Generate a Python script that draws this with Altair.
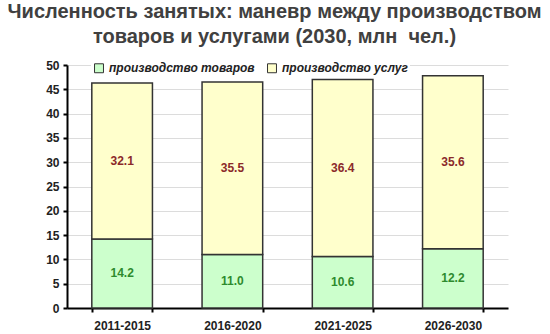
import altair as alt
import pandas as pd

periods = ["2011-2015", "2016-2020", "2021-2025", "2026-2030"]
goods = [14.2, 11.0, 10.6, 12.2]
services = [32.1, 35.5, 36.4, 35.6]
series_names = ["производство товаров", "производство услуг"]
y_ticks = [0, 5, 10, 15, 20, 25, 30, 35, 40, 45, 50]

rows = []
for i, p in enumerate(periods):
    rows.append({"period": p, "series": series_names[0], "value": goods[i], "order": 0})
    rows.append({"period": p, "series": series_names[1], "value": services[i], "order": 1})
df = pd.DataFrame(rows)

FONT = "Liberation Sans"

base = alt.Chart(df).transform_stack(
    stack="value", groupby=["period"], as_=["y0", "y1"], sort=[alt.SortField("order")]
).transform_calculate(mid="(datum.y0 + datum.y1) / 2")

xscale = alt.Scale(paddingInner=0.45, paddingOuter=0.225)
xaxis = alt.Axis(labelAngle=0, labelFont=FONT, labelFontWeight="bold", labelFontSize=12,
                 labelColor="#222", domainColor="#000", domainWidth=2, tickBand="extent",
                 tickColor="#000", tickWidth=2, tickSize=4, labelPadding=8)
yscale = alt.Scale(domain=[0, 50], nice=False)
yaxis = alt.Axis(values=y_ticks, labelOverlap=False, labelFont=FONT, labelFontWeight="bold",
                 labelFontSize=12, labelColor="#222", domainColor="#000", domainWidth=2,
                 tickColor="#000", tickWidth=2, tickSize=4, grid=True, gridColor="#dcdcdc",
                 gridWidth=1, labelPadding=4)

bars = base.mark_bar(stroke="#333", strokeWidth=1.5).encode(
    x=alt.X("period:N", sort=periods, title=None, scale=xscale, axis=xaxis),
    y=alt.Y("y0:Q", title=None, scale=yscale, axis=yaxis),
    y2="y1:Q",
    color=alt.Color("series:N", sort=series_names,
                    scale=alt.Scale(domain=series_names, range=["#ccffcc", "#ffffcc"]),
                    legend=alt.Legend(title=None, orient="none", legendX=24, legendY=-5,
                                      direction="horizontal", symbolType="square", symbolSize=80,
                                      symbolStrokeColor="#333", symbolStrokeWidth=1,
                                      labelFont=FONT, labelFontStyle="italic", labelFontWeight="bold",
                                      labelFontSize=12, labelColor="#222", columnPadding=10,
                                      fillColor="white", padding=2, symbolOffset=0)),
)

labels = base.mark_text(font=FONT, fontWeight="bold", fontSize=12).encode(
    x=alt.X("period:N", sort=periods, title=None, scale=xscale, axis=xaxis),
    y=alt.Y("mid:Q", title=None, scale=yscale, axis=yaxis),
    text=alt.Text("value:Q", format=".1f"),
    color=alt.condition(alt.datum.order == 0, alt.value("#2e8b2e"), alt.value("#8b2a2a")),
)

chart = alt.layer(bars, labels).properties(
    width=441, height=243,
    title=alt.TitleParams(
        ["Численность занятых: маневр между производством", "товаров и услугами (2030, млн \u00a0чел.)"],
        font=FONT, fontSize=20, fontWeight="bold", color="#404040", anchor="middle",
        dx=-13, offset=12, lineHeight=25),
    padding={"left": 67, "top": 65, "right": 42, "bottom": 26},
    autosize=alt.AutoSizeParams(type="none"),
).configure_view(stroke=None)

chart.save("out.html", embed_options={"renderer": "svg", "actions": False})
